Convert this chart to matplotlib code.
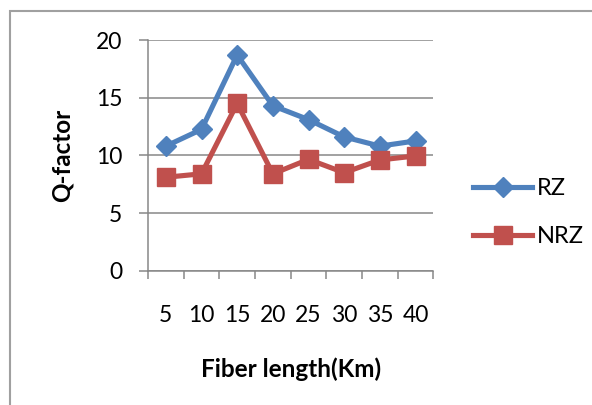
import matplotlib.pyplot as plt
from matplotlib.patches import Rectangle

plt.rcParams['font.family'] = ['Lato', 'DejaVu Sans']

lengths = ['5', '10', '15', '20', '25', '30', '35', '40']
rz = [10.8, 12.25, 18.7, 14.3, 13.1, 11.6, 10.8, 11.25]
nrz = [8.1, 8.4, 14.5, 8.4, 9.65, 8.5, 9.6, 9.95]

blue = '#4F81BD'
red = '#C0504D'
grid_col = '#878787'

fig = plt.figure(figsize=(5.92, 4.05), dpi=100)
ax = fig.add_axes([0.25, 0.3316, 0.482, 0.5696])

x = list(range(len(lengths)))
ax.plot(x, rz, color=blue, lw=3.7, marker='D', ms=10, label='RZ', zorder=3)
ax.plot(x, nrz, color=red, lw=3.7, marker='s', ms=13, label='NRZ', zorder=3)

ax.set_xlim(-0.5, len(lengths) - 0.5)
ax.set_ylim(0, 20)
ax.set_yticks([0, 5, 10, 15, 20])
ax.yaxis.grid(True, color=grid_col, lw=1.1)
ax.set_axisbelow(True)

ax.set_xticks(x)
ax.set_xticklabels(lengths)
ax.set_xticks([i - 0.5 for i in range(len(lengths) + 1)], minor=True)
ax.tick_params(axis='x', which='major', length=0, pad=25, labelsize=16.5)
ax.tick_params(axis='x', which='minor', length=6, width=1.1, color=grid_col, direction='out')
ax.tick_params(axis='y', length=6.5, width=1.1, color=grid_col, pad=12, labelsize=16.5)

for s in ['top', 'right']:
    ax.spines[s].set_visible(False)
for s in ['left', 'bottom']:
    ax.spines[s].set_color(grid_col)
    ax.spines[s].set_linewidth(1.1)

ax.set_xlabel('Fiber length(Km)', fontsize=17.5, fontweight='bold', labelpad=22)
ax.set_ylabel('Q-factor', fontsize=17.5, fontweight='bold', labelpad=16)

ax.legend(loc='center left', bbox_to_anchor=(1.139, 0.252), frameon=False,
          fontsize=17, handlelength=2.5, handletextpad=0.2, labelspacing=1.15,
          borderpad=0, borderaxespad=0)

# outer chart frame
fig.patches.append(Rectangle((10 / 592, -0.1), 1.0, 1.1 - 11 / 405, transform=fig.transFigure,
                             fill=False, edgecolor='#A0A0A0', lw=1.5))

fig.savefig('out.png', dpi=100)
